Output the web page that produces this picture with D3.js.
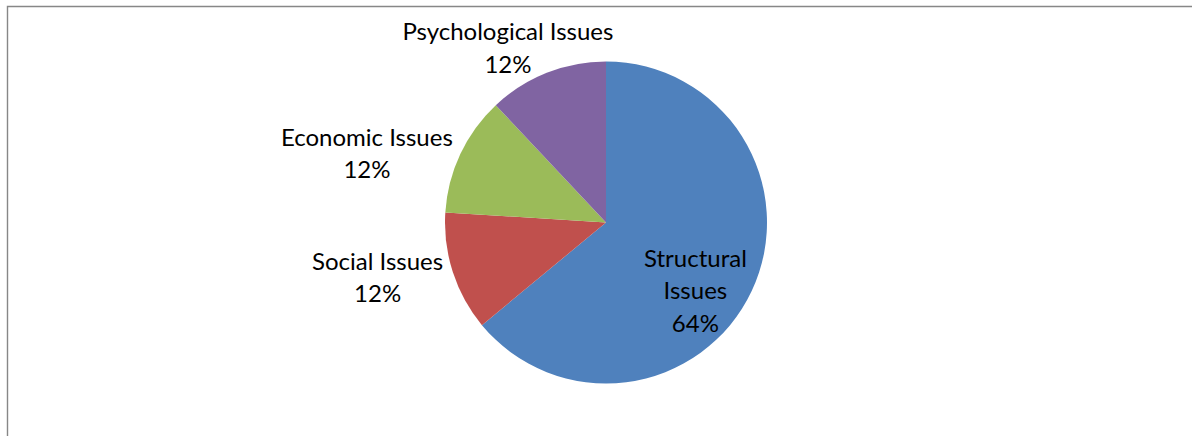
<!DOCTYPE html>
<html>
<head>
<meta charset="utf-8">
<script src="https://cdn.jsdelivr.net/npm/d3@7"></script>
<style>
  html, body { margin: 0; padding: 0; background: #fff; }
  svg { display: block; }
</style>
</head>
<body>
<svg id="chart" width="1192" height="436"></svg>
<script>
// ---- data ----
const categories = ["Structural Issues", "Social Issues", "Economic Issues", "Psychological Issues"];
const values = [64, 12, 12, 12];
const labelLines = [["Structural", "Issues", "64%"], ["Social Issues", "12%"], ["Economic Issues", "12%"], ["Psychological Issues", "12%"]];
const colors = ["#4F81BD", "#C0504D", "#9BBB59", "#8064A2"];

// ---- layout ----
const W = 1192, H = 436;
const cx = 606, cy = 222.5, R = 161;
const lineH = 32.5;
const fontSize = 24;
const insideLabel = [true, false, false, false];
// small label nudges (px) relative to arc-based anchor
const nudges = [[2, 3], [-37, -15], [-57, 9], [-24, 5]];

const svg = d3.select("#chart");

// frame (chart area border, cut at right and bottom)
svg.append("path")
  .attr("d", `M7.5,${H + 2} L7.5,6.5 L${W + 2},6.5`)
  .attr("fill", "none")
  .attr("stroke", "#878787")
  .attr("stroke-width", 1.4);

const pie = d3.pie().sort(null).value(d => d.value);
const data = categories.map((c, i) => ({ name: c, value: values[i], color: colors[i], lines: labelLines[i], inside: insideLabel[i], nudge: nudges[i] }));
const arcs = pie(data);

const arc = d3.arc().innerRadius(0).outerRadius(R);
const arcIn = d3.arc().innerRadius(R * 0.6).outerRadius(R * 0.6);
const arcOut = d3.arc().innerRadius(R * 1.25).outerRadius(R * 1.25);

const g = svg.append("g").attr("transform", `translate(${cx},${cy})`);

g.selectAll("path.slice")
  .data(arcs)
  .join("path")
  .attr("class", "slice")
  .attr("d", arc)
  .attr("fill", d => d.data.color);

const labels = g.selectAll("text.lbl")
  .data(arcs)
  .join("text")
  .attr("class", "lbl")
  .attr("font-family", "Lato, 'Open Sans', sans-serif")
  .attr("font-size", fontSize)
  .attr("fill", "#000")
  .attr("text-anchor", "middle")
  .each(function(d) {
    const c = (d.data.inside ? arcIn : arcOut).centroid(d);
    const x = c[0] + d.data.nudge[0];
    const y = c[1] + d.data.nudge[1];
    const t = d3.select(this);
    d.data.lines.forEach((ln, i) => {
      t.append("tspan").attr("x", x).attr("y", y + i * lineH).text(ln);
    });
  });
</script>
</body>
</html>
